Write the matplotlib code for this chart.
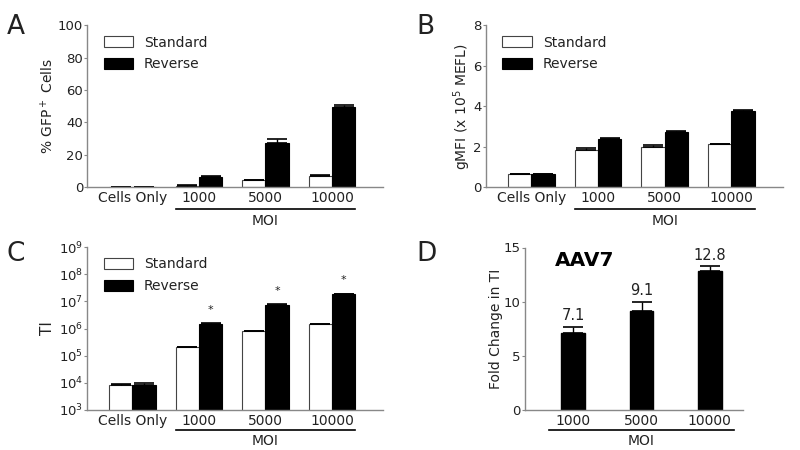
import numpy as np
import matplotlib
matplotlib.use("Agg")
import matplotlib.pyplot as plt
import matplotlib.transforms as mtransforms

plt.rcParams['font.family'] = 'DejaVu Sans'

groups = ["Cells Only", "1000", "5000", "10000"]
moi_groups = ["1000", "5000", "10000"]

# panel A: % GFP+ cells
gfp_std = [0.2, 1.0, 4.2, 7.0]
gfp_std_err = [0.1, 0.2, 0.3, 0.3]
gfp_rev = [0.2, 6.3, 27.5, 49.5]
gfp_rev_err = [0.1, 0.5, 2.0, 1.5]

# panel B: gMFI (x 10^5 MEFL)
mfi_std = [0.65, 1.82, 2.0, 2.13]
mfi_std_err = [0.02, 0.1, 0.07, 0.02]
mfi_rev = [0.63, 2.38, 2.75, 3.78]
mfi_rev_err = [0.02, 0.03, 0.03, 0.03]

# panel C: TI
ti_std = [8.3e3, 2.0e5, 7.8e5, 1.45e6]
ti_std_err = [0.6e3, 0.1e5, 0.6e5, 0.05e6]
ti_rev = [8.5e3, 1.45e6, 7.3e6, 1.85e7]
ti_rev_err = [1.2e3, 0.1e6, 0.4e6, 0.08e7]
ti_star = [False, True, True, True]

# panel D: fold change in TI
fold = [7.1, 9.1, 12.8]
fold_err = [0.6, 0.9, 0.45]

width = 0.35
fs = 10
tick_fs = 9.5
spine_col = '#888888'
text_col = '#222222'

fig = plt.figure(figsize=(8, 4.5), dpi=100)


def style(ax):
    for s in ['top', 'right']:
        ax.spines[s].set_visible(False)
    for s in ['left', 'bottom']:
        ax.spines[s].set_color(spine_col)
        ax.spines[s].set_linewidth(1.0)
    ax.tick_params(axis='x', length=0, labelsize=fs, pad=3, labelcolor=text_col)
    ax.tick_params(axis='y', length=2, labelsize=tick_fs, pad=1, color=spine_col,
                   labelcolor=text_col)


def moi_line(ax, x0, x1, ypos, ytext):
    trans = mtransforms.blended_transform_factory(ax.transData, ax.transAxes)
    ax.plot([x0, x1], [ypos, ypos], color='black', lw=1.2, transform=trans, clip_on=False)
    ax.text((x0 + x1) / 2, ytext, "MOI", transform=trans, ha='center', va='center',
            fontsize=fs, color=text_col)


def paired(ax, std, std_err, rev, rev_err, moi_y, log=False):
    x = np.arange(len(groups))
    ekw = dict(ecolor='black', elinewidth=1, capsize=7, capthick=1.2)
    ax.bar(x - width / 2, std, width, color='white', edgecolor='#444444', lw=0.8,
           yerr=[np.zeros(len(std)), std_err], error_kw=ekw, label='Standard', log=log)
    ax.bar(x + width / 2, rev, width, color='black', edgecolor='black', lw=0.8,
           yerr=[np.zeros(len(rev)), rev_err], error_kw=ekw, label='Reverse', log=log)
    ax.set_xticks(x)
    ax.set_xticklabels(groups)
    ax.set_xlim(-0.68, 3.77)
    style(ax)
    leg = ax.legend(loc='upper left', bbox_to_anchor=(0.02, 1.0), frameon=False, fontsize=fs,
                    handlelength=2.1, handleheight=0.8, labelspacing=0.55, borderaxespad=0.35,
                    handletextpad=0.8)
    for t in leg.get_texts():
        t.set_color(text_col)
    moi_line(ax, 1 - width, 3 + width, *moi_y)
    return x


axA = fig.add_axes([0.109, 0.584, 0.370, 0.360])
paired(axA, gfp_std, gfp_std_err, gfp_rev, gfp_rev_err, (-0.135, -0.21))
axA.set_ylim(0, 100)
axA.set_yticks([0, 20, 40, 60, 80, 100])
axA.set_ylabel("% GFP$^+$ Cells", fontsize=fs, color=text_col)
axA.yaxis.set_label_coords(-0.105, 0.5)

axB = fig.add_axes([0.6075, 0.584, 0.371, 0.360])
paired(axB, mfi_std, mfi_std_err, mfi_rev, mfi_rev_err, (-0.135, -0.21))
axB.set_ylim(0, 8)
axB.set_yticks([0, 2, 4, 6, 8])
axB.set_ylabel("gMFI (x 10$^5$ MEFL)", fontsize=fs, color=text_col)
axB.yaxis.set_label_coords(-0.045, 0.5)

axC = fig.add_axes([0.109, 0.089, 0.370, 0.362])
x = paired(axC, ti_std, ti_std_err, ti_rev, ti_rev_err, (-0.123, -0.19), log=True)
axC.set_yscale('log')
axC.set_ylim(1e3, 1e9)
axC.set_yticks([10.0 ** k for k in range(3, 10)])
axC.minorticks_off()
axC.set_ylabel("TI", fontsize=fs + 1, color=text_col)
axC.yaxis.set_label_coords(-0.11, 0.5)
for xi, v, e, s in zip(x, ti_rev, ti_rev_err, ti_star):
    if s:
        axC.text(xi + width / 2, (v + e) * 2.0, "*", ha='center', va='bottom', fontsize=8,
                 color=text_col)

axD = fig.add_axes([0.656, 0.089, 0.273, 0.361])
xd = np.arange(len(moi_groups))
axD.bar(xd, fold, width, color='black', edgecolor='black',
        yerr=[np.zeros(len(fold)), fold_err],
        error_kw=dict(ecolor='black', elinewidth=1, capsize=7, capthick=1.2))
for xi, v, e in zip(xd, fold, fold_err):
    axD.text(xi, v + e + 0.35, f"{v:.1f}", ha='center', va='bottom', fontsize=fs + 0.5,
             color=text_col)
axD.set_xticks(xd)
axD.set_xticklabels(moi_groups)
axD.set_xlim(-0.71, 2.49)
axD.set_ylim(0, 15)
axD.set_yticks([0, 5, 10, 15])
style(axD)
axD.set_ylabel("Fold Change in TI", fontsize=fs, color=text_col)
axD.yaxis.set_label_coords(-0.10, 0.5)
axD.text(0.14, 0.92, "AAV7", transform=axD.transAxes, fontsize=14.5, fontweight='bold',
         ha='left', va='center')
moi_line(axD, -width, 2 + width, -0.123, -0.19)

for lab, xx, yy in [("A", 0.008, 0.97), ("B", 0.52, 0.97), ("C", 0.008, 0.465), ("D", 0.52, 0.465)]:
    fig.text(xx, yy, lab, fontsize=19, ha='left', va='top', color=text_col)

fig.savefig("out.png", dpi=100)
